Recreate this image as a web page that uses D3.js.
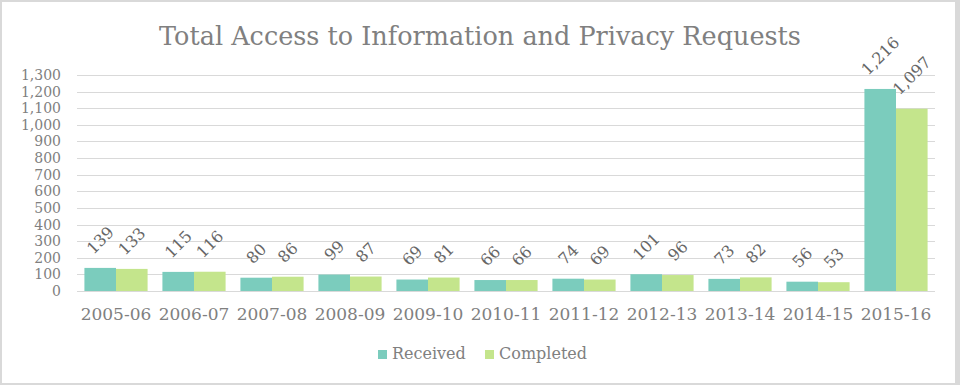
<!DOCTYPE html>
<html>
<head>
<meta charset="UTF-8">
<title>Total Access to Information and Privacy Requests</title>
<script src="https://d3js.org/d3.v7.min.js"></script>
<style>
  body { margin: 0; background: #d9d9d9; }
  svg { display: block; }
  text { font-family: "DejaVu Serif", Georgia, serif; }
</style>
</head>
<body>
<svg></svg>
<script>
const years = ["2005-06","2006-07","2007-08","2008-09","2009-10","2010-11","2011-12","2012-13","2013-14","2014-15","2015-16"];
const received = [139,115,80,99,69,66,74,101,73,56,1216];
const completed = [133,116,86,87,81,66,69,96,82,53,1097];
const yTicks = d3.range(0, 1301, 100);
const seriesNames = ["Received", "Completed"];
const colors = ["#7bccbd", "#c4e58c"];

const width = 960, height = 385;
const svg = d3.select("svg").attr("width", width).attr("height", height);

// white chart area inside grey frame
svg.append("rect").attr("x", 2).attr("y", 2).attr("width", 953).attr("height", 381).attr("fill", "#fff");

const x = d3.scaleBand().domain(years).range([77, 935]).paddingInner(0.19).paddingOuter(0.095);
const x1 = d3.scaleBand().domain([0, 1]).range([0, x.bandwidth()]);
const y = d3.scaleLinear().domain([0, 1300]).range([291, 75]);

svg.append("text")
  .attr("x", 480).attr("y", 45)
  .attr("text-anchor", "middle")
  .attr("fill", "#808080")
  .style("font-size", "25.5px")
  .text("Total Access to Information and Privacy Requests");

// gridlines
svg.append("g").selectAll("line").data(yTicks).join("line")
  .attr("x1", 77).attr("x2", 935)
  .attr("y1", d => Math.round(y(d)) + 0.5).attr("y2", d => Math.round(y(d)) + 0.5)
  .attr("stroke", "#d9d9d9");

// y labels
svg.append("g").selectAll("text").data(yTicks).join("text")
  .attr("x", 61).attr("y", d => y(d) + 5)
  .attr("text-anchor", "end")
  .attr("fill", "#808080")
  .style("font-size", "14px")
  .text(d => d3.format(",")(d));

// x labels
svg.append("g").selectAll("text").data(years).join("text")
  .attr("x", d => x(d) + x.bandwidth() / 2).attr("y", 320)
  .attr("text-anchor", "middle")
  .attr("fill", "#808080")
  .style("font-size", "17px")
  .text(d => d);

const series = [received, completed];
const bars = [];
series.forEach((vals, s) => {
  vals.forEach((v, i) => bars.push({s, v, year: years[i]}));
});

svg.append("g").selectAll("rect").data(bars).join("rect")
  .attr("x", d => x(d.year) + x1(d.s))
  .attr("y", d => y(d.v))
  .attr("width", x1.bandwidth())
  .attr("height", d => y(0) - y(d.v))
  .attr("fill", d => colors[d.s]);

// rotated data labels
const lab = svg.append("g").selectAll("text").data(bars).join("text")
  .attr("text-anchor", "middle")
  .attr("fill", "#666")
  .style("font-size", "16px")
  .text(d => d3.format(",")(d.v));
lab.each(function(d) {
  const w = this.getComputedTextLength();
  const h = 11;
  const cx = x(d.year) + x1(d.s) + x1.bandwidth() / 2;
  const cy = y(d.v) - 13 - (w + h) * 0.3536;
  d3.select(this).attr("transform", `translate(${cx},${cy}) rotate(-45)`).attr("dy", "0.35em");
});

// legend
const legendX = [378, 485];
const lg = svg.append("g").selectAll("g").data(seriesNames).join("g")
  .attr("transform", (d, i) => `translate(${legendX[i]},350)`);
lg.append("rect").attr("width", 9).attr("height", 9).attr("fill", (d, i) => colors[i]);
lg.append("text").attr("x", 14).attr("y", 9).attr("fill", "#808080")
  .style("font-size", "16px").text(d => d);
</script>
</body>
</html>
